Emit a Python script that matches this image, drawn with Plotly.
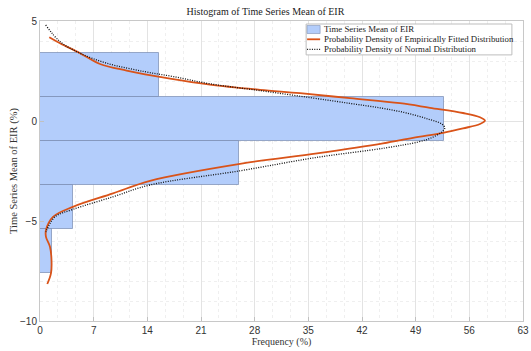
import plotly.graph_objects as go

# Histogram bins of the time-series mean EIR (%), horizontal bars
bin_centers = [2.3, 0.1, -2.1, -4.3, -6.5]
bin_width = 2.2
bin_freq = [15.5, 52.7, 26.0, 4.3, 1.5]

# Empirically fitted density (frequency %, EIR %)
emp_freq = [1.21, 2.61, 5.22, 7.83, 11.30, 16.96, 22.17, 28.70, 33.91, 40.43,
            46.96, 50.87, 55.17, 57.39, 58.04, 57.39, 55.17, 52.57, 48.65, 44.74,
            36.13, 26.09, 14.35, 9.52, 4.30, 1.70, 0.78, 0.78, 1.30, 1.50, 1.43, 0.95]
emp_eir = [4.19, 3.89, 3.39, 2.85, 2.52, 2.12, 1.82, 1.56, 1.39, 1.14,
           0.89, 0.66, 0.40, 0.19, 0.02, -0.15, -0.37, -0.59, -0.84, -1.12,
           -1.62, -2.14, -2.99, -3.62, -4.29, -4.79, -5.45, -5.79, -6.29, -6.95, -7.62, -8.15]

# Normal density (frequency %, EIR %)
norm_freq = [0.74, 2.61, 5.22, 8.70, 13.60, 17.40, 22.17, 28.70, 35.22, 40.43,
             44.60, 47.80, 50.60, 52.40, 52.80, 52.40, 51.00, 49.30, 45.00, 36.10,
             26.09, 14.35, 9.52, 4.30, 1.96, 0.87, 0.78]
norm_eir = [4.80, 3.97, 3.39, 2.89, 2.47, 2.22, 1.86, 1.52, 1.17, 0.88,
            0.64, 0.40, 0.10, -0.15, -0.35, -0.55, -0.85, -1.05, -1.35, -1.82,
            -2.49, -3.20, -3.79, -4.42, -4.79, -5.45, -5.55]

x_ticks = [0, 7, 14, 21, 28, 35, 42, 49, 56, 63]
y_ticks = [5, 0, -5, -10]

legend_labels = ["Time Series Mean of EIR",
                 "Probability Density of Empirically Fitted Distribution",
                 "Probability Density of Normal Distribution"]

serif = "Liberation Serif"
sans = "Liberation Sans"
bar_fill = "#b3cdfb"
bar_edge = "rgba(120,138,175,0.7)"
orange = "#d95319"
dot_color = "#111111"
dot_dash = "1px,1.4px"

fig = go.Figure()
fig.add_trace(go.Bar(
    x=bin_freq, y=bin_centers, width=bin_width, orientation="h",
    marker=dict(color=bar_fill, line=dict(color=bar_edge, width=1)),
    name=legend_labels[0],
))
fig.add_trace(go.Scatter(
    x=emp_freq, y=emp_eir, mode="lines", line_shape="spline",
    line=dict(color=orange, width=1.8),
    name=legend_labels[1],
))
fig.add_trace(go.Scatter(
    x=norm_freq, y=norm_eir, mode="lines", line_shape="spline",
    line=dict(color=dot_color, width=1.3, dash=dot_dash),
    name=legend_labels[2],
))

# Compact legend box in the upper-right corner (paper coordinates)
lx0, lx1, ly0, ly1 = 0.551, 0.977, 0.887, 0.990
row_y = [0.9717, 0.939, 0.9057]
sx0, sx1, tx = 0.553, 0.580, 0.584
shapes = [
    dict(type="rect", xref="paper", yref="paper", x0=lx0, x1=lx1, y0=ly0, y1=ly1,
         fillcolor="white", line=dict(color="#bdbdbd", width=1)),
    dict(type="rect", xref="paper", yref="paper", x0=sx0, x1=sx1,
         y0=row_y[0] - 0.0135, y1=row_y[0] + 0.0135,
         fillcolor=bar_fill, line=dict(color=bar_edge, width=0.8)),
    dict(type="line", xref="paper", yref="paper", x0=sx0, x1=sx1,
         y0=row_y[1], y1=row_y[1], line=dict(color=orange, width=1.8)),
    dict(type="line", xref="paper", yref="paper", x0=sx0, x1=sx1,
         y0=row_y[2], y1=row_y[2], line=dict(color=dot_color, width=1.2, dash=dot_dash)),
]
annotations = [
    dict(xref="paper", yref="paper", x=tx, y=yy, text=lab, showarrow=False,
         xanchor="left", yanchor="middle", font=dict(family=serif, size=8.8, color="#222"))
    for yy, lab in zip(row_y, legend_labels)
]

grid_major = "#e3e3e3"
grid_minor = "#efefef"
fig.update_layout(
    width=531, height=351,
    margin=dict(l=40, r=8, t=21, b=30),
    plot_bgcolor="white", paper_bgcolor="white",
    showlegend=False,
    title=dict(text="Histogram of Time Series Mean of EIR", x=0.5, xanchor="center",
               y=0.966, yanchor="middle", font=dict(family=serif, size=10, color="#222")),
    shapes=shapes, annotations=annotations,
    bargap=0,
)
fig.update_xaxes(
    range=[0, 63], tickvals=x_ticks, ticks="inside", ticklen=4, tickcolor="#c0c0c0",
    showline=True, linecolor="#c8c8c8", linewidth=1, mirror=True,
    showgrid=True, gridcolor=grid_major, gridwidth=1,
    minor=dict(dtick=7 / 3, showgrid=True, gridcolor=grid_minor, griddash="dot", ticks=""),
    tickfont=dict(family=sans, size=10, color="#333"),
    title=dict(text="Frequency (%)", font=dict(family=serif, size=10, color="#333"), standoff=2),
    zeroline=False, automargin=False,
)
fig.update_yaxes(
    range=[-10, 5], tickvals=y_ticks, ticks="inside", ticklen=4, tickcolor="#c0c0c0",
    showline=True, linecolor="#c8c8c8", linewidth=1, mirror=True,
    showgrid=True, gridcolor=grid_major, gridwidth=1,
    minor=dict(dtick=1, showgrid=True, gridcolor=grid_minor, griddash="dot", ticks=""),
    tickfont=dict(family=sans, size=10, color="#333"),
    title=dict(text="Time Series Mean of EIR (%)", font=dict(family=serif, size=10.5, color="#333"), standoff=0),
    zeroline=False, automargin=False,
)

fig.write_html("out.html")
